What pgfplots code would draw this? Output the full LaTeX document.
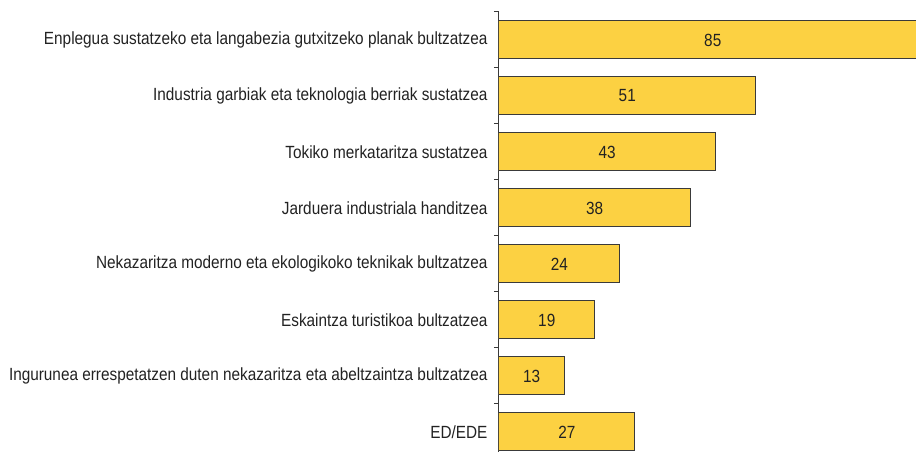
\documentclass[border=0pt]{standalone}
\usepackage{fontspec}
\setmainfont{Liberation Sans}[FakeStretch=0.87]
\usepackage{pgfplots}
\usepackage{pgfplotstable}
\pgfplotsset{compat=1.18}
\definecolor{barfill}{HTML}{FCD142}
\definecolor{barline}{HTML}{3A3A3A}
\definecolor{txt}{HTML}{222222}

% p = row position (top = 7), v = value
\pgfplotstableread{
p v
7 85
6 51
5 43
4 38
3 24
2 19
1 13
0 27
}\datatable

\begin{document}
\begin{tikzpicture}
\begin{axis}[
  scale only axis, width=417bp, height=440bp,
  xmin=0, xmax=82.9, ymin=-0.357, ymax=7.5,
  axis x line=none, axis y line*=left,
  axis line style={barline, line width=1bp},
  ytick={0,...,7},
  yticklabels={ED/EDE,
    Ingurunea errespetatzen duten nekazaritza eta abeltzaintza bultzatzea,
    Eskaintza turistikoa bultzatzea,
    Nekazaritza moderno eta ekologikoko teknikak bultzatzea,
    Jarduera industriala handitzea,
    Tokiko merkataritza sustatzea,
    Industria garbiak eta teknologia berriak sustatzea,
    Enplegua sustatzeko eta langabezia gutxitzeko planak bultzatzea},
  major tick length=0pt,
  minor ytick={0.5,1.5,...,7.5},
  minor tick length=5bp, tick align=outside,
  tick style={barline, line width=1bp},
  yticklabel style={font=\fontsize{17.7}{20}\selectfont, text=txt, xshift=-8bp},
  /pgf/number format/assume math mode=true,
]
\addplot[xbar, bar width=38bp, fill=barfill, draw=barline, line width=1bp]
  table[x=v, y=p]{\datatable};
% value labels in the middle of each bar
\addplot[draw=none, nodes near coords, point meta=explicit,
  x filter/.expression={x/2},
  nodes near coords style={anchor=center, text=txt,
    font=\fontsize{17.7}{20}\selectfont}]
  table[x=v, y=p, meta=v]{\datatable};
\end{axis}
\pgfresetboundingbox
\path ([xshift=-499bp]current axis.south west) rectangle ([yshift=12bp]current axis.north east);
\end{tikzpicture}
\end{document}
